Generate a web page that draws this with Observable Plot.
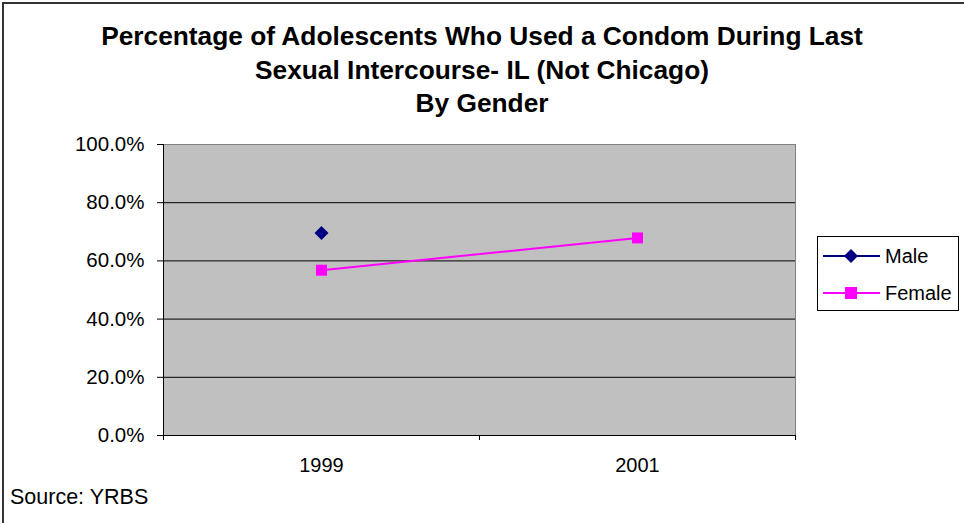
<!DOCTYPE html>
<html><head><meta charset="utf-8">
<script src="https://cdn.jsdelivr.net/npm/d3@7"></script>
<script src="https://cdn.jsdelivr.net/npm/@observablehq/plot@0.6"></script>
<style>
body{margin:0;background:#fff;}
#wrap{position:relative;width:964px;height:523px;overflow:hidden;font-family:"Liberation Sans",Arial,sans-serif;background:#fff;color:#000;}
#border{position:absolute;left:2px;top:2px;width:1000px;height:600px;border-left:2px solid #333;border-top:2px solid #333;}
#chart{position:absolute;left:0;top:0;}
#title{position:absolute;left:0;top:20px;width:964px;text-align:center;font-weight:bold;font-size:26.3px;line-height:33.5px;}
#source{position:absolute;left:10px;top:485px;font-size:21.5px;}
#legend{position:absolute;left:817px;top:236px;width:140px;height:73px;border:1px solid #000;background:#fff;}
.item{position:absolute;left:5px;height:24px;display:flex;align-items:center;font-size:20px;}
.item svg{margin-right:5px;}
</style>
</head><body>
<div id="wrap">
  <div id="border"></div>
  <div id="chart"></div>
  <div id="title"></div>
  <div id="legend"></div>
  <div id="source"></div>
</div>
<script>
const titleLines = ["Percentage of Adolescents Who Used a Condom During Last", "Sexual Intercourse- IL (Not Chicago)", "By Gender"];
const sourceText = "Source: YRBS";
const years = ["1999", "2001"];
const seriesNames = ["Male", "Female"];
const male = [69.6, null];
const female = [56.8, 67.9];
const yTicks = [0, 20, 40, 60, 80, 100];
const colors = ["#000080", "#ff00ff"];
const symbols = ["diamond2", "square"];

const seriesValues = [male, female];
const rows = [];
seriesNames.forEach((s, k) => years.forEach((yr, i) => {
  const v = seriesValues[k][i];
  if (v != null) rows.push({pos: i + 0.5, year: yr, series: s, value: v});
}));

const chart = Plot.plot({
  width: 964, height: 523,
  marginLeft: 163, marginRight: 169, marginTop: 144, marginBottom: 88,
  style: {fontFamily: "Liberation Sans, Arial, sans-serif", fontSize: "20px", color: "#000", background: "transparent"},
  x: {type: "linear", domain: [0, years.length], axis: null},
  y: {domain: [0, 100], axis: null},
  marks: [
    Plot.frame({fill: "#c0c0c0", stroke: "#808080"}),
    Plot.ruleY(yTicks.filter(d => d > 0 && d < 100), {stroke: "#000", strokeWidth: 1}),
    Plot.ruleY([0], {stroke: "#000"}),
    Plot.ruleX([0], {stroke: "#000"}),
    Plot.axisY({ticks: yTicks, tickSize: 6, tickPadding: 13, tickFormat: d => d.toFixed(1) + "%", fontSize: 20.5, label: null}),
    Plot.axisX({ticks: d3.range(0, years.length + 1), tickSize: 5, tickFormat: () => "", label: null}),
    Plot.axisX({ticks: years.map((d, i) => i + 0.5), tickSize: 0, tickPadding: 22, tickFormat: d => years[Math.floor(d)], fontSize: 20, label: null}),
    Plot.line(rows.filter(r => r.series === "Female"), {x: "pos", y: "value", stroke: colors[1], strokeWidth: 2}),
    Plot.line(rows.filter(r => r.series === "Male"), {x: "pos", y: "value", stroke: colors[0], strokeWidth: 2}),
    Plot.dot(rows.filter(r => r.series === "Male"), {x: "pos", y: "value", symbol: () => symbols[0], fill: colors[0], r: 6.3, stroke: "none"}),
    Plot.dot(rows.filter(r => r.series === "Female"), {x: "pos", y: "value", symbol: () => symbols[1], fill: colors[1], r: 6.2, stroke: "none"})
  ]
});
document.getElementById("chart").appendChild(chart);

document.getElementById("title").innerHTML = titleLines.join("<br>");
document.getElementById("source").textContent = sourceText;

const legend = document.getElementById("legend");
seriesNames.forEach((s, k) => {
  const item = document.createElement("div");
  item.className = "item";
  item.style.top = (k === 0 ? 7 : 44) + "px";
  const mk = k === 0
    ? `<path d="M28,5 L35,12 L28,19 L21,12 Z" fill="${colors[0]}"/>`
    : `<rect x="22" y="6" width="12" height="12" fill="${colors[1]}"/>`;
  item.innerHTML = `<svg width="57" height="24"><line x1="0" x2="57" y1="12" y2="12" stroke="${colors[k]}" stroke-width="2"/>${mk}</svg><span>${s}</span>`;
  legend.appendChild(item);
});
</script>
</body></html>
